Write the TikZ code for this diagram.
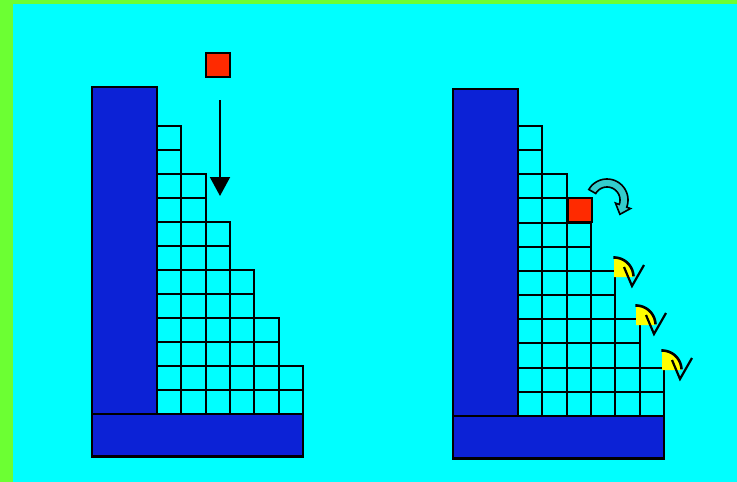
\documentclass[tikz,border=0pt]{standalone}
\usepackage{tikz}
\usetikzlibrary{arrows.meta}
\definecolor{frame}{HTML}{6CFF33}
\definecolor{sky}{HTML}{00FFFF}
\definecolor{wallblue}{HTML}{0C22D6}
\definecolor{brick}{HTML}{FF2A00}
\definecolor{turnfill}{HTML}{33CCCC}
\definecolor{sun}{HTML}{FFFF00}
\tikzset{
  every picture/.style={line width=1.6pt,line join=miter},
  wall/.style={draw=black,fill=wallblue,line width=2.4pt},
  cell/.style={draw=black,line width=2pt},
  block/.style={draw=black,fill=brick,line width=1.8pt,minimum size=24pt,inner sep=0pt},
  fall/.style={-{Triangle[length=19pt,width=20pt]},line width=2pt},
  turn/.style={draw=black,fill=turnfill,line width=1.6pt},
  angmark/.style={draw=black,line width=2.6pt},
  tick/.style={draw=black,line width=2.2pt},
}

\begin{document}
\begin{tikzpicture}[x=1pt,y=-1pt]
  \useasboundingbox (0,0) rectangle (737,482);
  \fill[frame] (0,0) rectangle (737,482);
  \fill[sky] (13,4) rectangle (737,482);
  % two walls with their stepped fill
  \foreach \ox/\yb/\h in {0/414/24,361/416/24.17}{
    \foreach \c/\n in {0/12,1/10,2/8,3/6,4/4,5/2}
      \foreach \r in {1,...,\n}
        \draw[cell] ({157+\ox+\c*24.33},{\yb-\r*\h}) rectangle ++(24.33,\h);
    \draw[wall] ({92+\ox},{\yb-327}) rectangle ({157+\ox},\yb);
    \draw[wall] ({92+\ox},\yb) rectangle ({303+\ox},{\yb+42.5});
  }
  % left: block falls in
  \node[block] (drop) at (218,65) {};
  \coordinate (fallA) at (220,100);
  \coordinate (fallB) at (220,196);
  \draw[fall] (fallA) -- (fallB);
  % right: block set, rotation and angle marks
  \node[block] (set) at (580,210) {};
  \filldraw[turn] plot[domain=210:380,samples=30] ({607+21*cos(\x)},{200+21*sin(\x)})
    -- ({607+25*cos(20)},{200+25*sin(20)}) -- (619.9,214.3) -- ({607+9*cos(20)},{200+9*sin(20)})
    -- plot[domain=380:210,samples=30] ({607+13*cos(\x)},{200+13*sin(\x)}) -- cycle;
  \foreach \cx/\cy in {614/277,636/325,662/370}{
    \fill[sun] (\cx,\cy) -- plot[domain=270:360,samples=20] ({\cx+19.5*cos(\x)},{\cy+19.5*sin(\x)}) -- cycle;
    \draw[angmark] plot[domain=268:358,samples=20] ({\cx+19.5*cos(\x)},{\cy+19.5*sin(\x)});
    \draw[tick] (\cx+10,\cy-10) -- (\cx+18,\cy+9) -- (\cx+30,\cy-12);
  }
\end{tikzpicture}
\end{document}
